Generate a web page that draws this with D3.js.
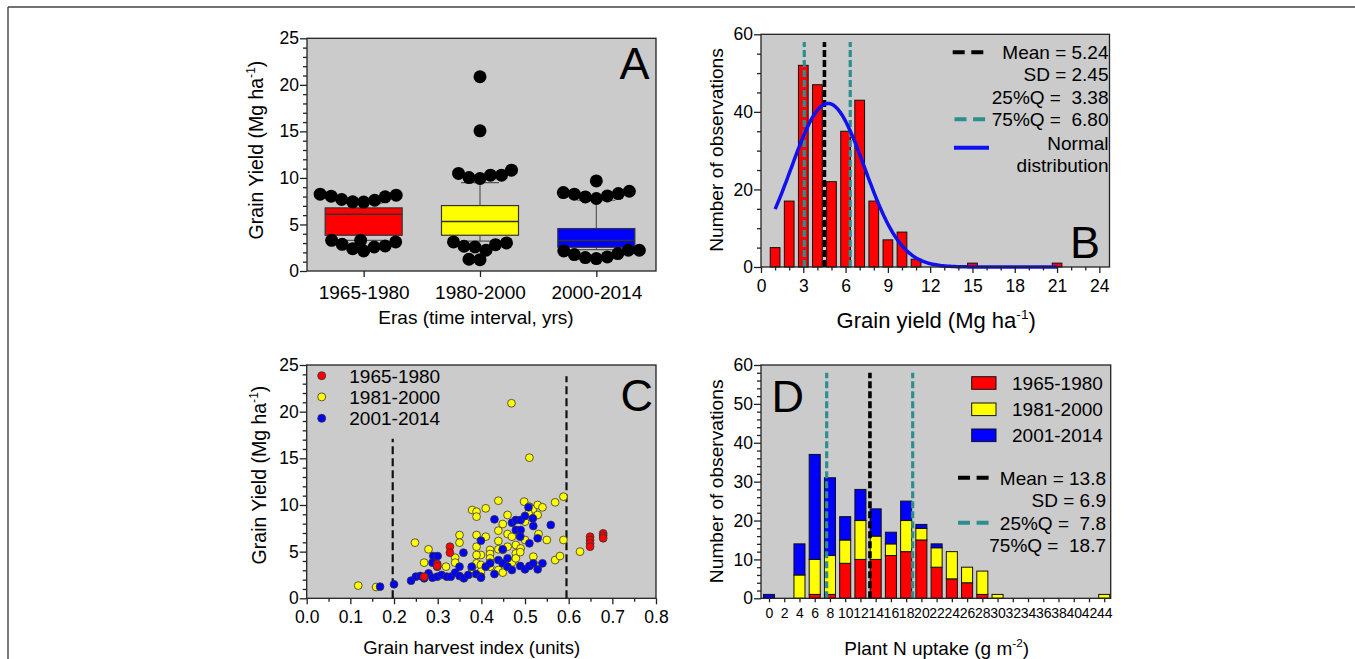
<!DOCTYPE html>
<html><head><meta charset="utf-8">
<script src="https://cdn.jsdelivr.net/npm/d3@7"></script>
<style>
html,body{margin:0;padding:0;background:#fff;}
svg{display:block;font-family:"Liberation Sans",Arial,Helvetica,sans-serif;}
</style>
</head><body>
<svg id="c" width="1355" height="659"></svg>
<script>
// ---------------- DATA ----------------
// Panel A : box plots by era
const eras = ["1965-1980", "1980-2000", "2000-2014"];
const boxQ1 = [3.84, 3.84, 2.55];
const boxMedian = [6.1, 5.31, 3.27];
const boxQ3 = [6.78, 7.03, 4.56];
const whiskerLow = [3.3, 3.2, 2.3];
const whiskerHigh = [7.3, 9.5, 7.6];
const outliers1965 = [8.25, 8.04, 7.68, 7.43, 7.4, 7.6, 7.97, 8.15, 3.3, 2.87, 2.58, 2.15, 2.4, 2.69, 3.12, 3.3];
const outliers1980 = [10.48, 10.3, 9.94, 10.04, 10.3, 10.83, 20.87, 15.06, 3.12, 2.23, 2.83, 1.22, 1.26, 2.66, 2.58, 3.02];
const outliers2000 = [9.68, 8.43, 8.25, 7.96, 7.79, 8.07, 8.32, 8.57, 2.23, 1.87, 1.51, 1.33, 1.44, 1.76, 2.15, 2.23];
const yTicksA = [0, 5, 10, 15, 20, 25];

// Panel B : histogram of grain yield
const yieldBins = [1, 2, 3, 4, 5, 6, 7, 8, 9, 10, 11, 12, 13, 14, 15, 16, 17, 18, 19, 20, 21];
const yieldCounts = [5, 17, 52, 47, 22, 35, 43, 17, 7, 9, 2, 0, 0, 0, 1, 0, 0, 0, 0, 0, 1];
const xTicksB = [0, 3, 6, 9, 12, 15, 18, 21, 24];
const yTicksB = [0, 20, 40, 60];
const vLinesB = [{x: 3.07, kind: "q"}, {x: 4.5, kind: "mean"}, {x: 6.33, kind: "q"}];
const normalFit = {peak: 42.2, mean: 4.75, sd: 2.6, from: 1, to: 21};
const legendB = ["Mean = 5.24", "SD = 2.45", "25%Q =  3.38", "75%Q =  6.80", "Normal", "distribution"];

// Panel C : scatter (harvest index, grain yield)
const series1965 = [[0.269,2.32],[0.299,3.68],[0.299,3.45],[0.328,5.53],[0.328,4.89],[0.649,6.60],[0.649,6.25],[0.649,5.89],[0.649,5.53],[0.679,6.96],[0.679,6.70],[0.679,6.43]];
const series1981 = [[0.118,1.36],[0.159,1.21],[0.248,5.96],[0.279,5.25],[0.269,3.82],[0.290,3.82],[0.319,3.39],[0.340,4.35],[0.340,3.82],[0.350,6.78],[0.350,5.96],[0.379,9.46],[0.389,9.28],[0.389,8.75],[0.410,9.64],[0.439,10.46],[0.460,8.93],[0.449,7.96],[0.498,10.36],[0.510,9.82],[0.518,9.53],[0.529,10.0],[0.540,9.75],[0.529,8.93],[0.569,10.28],[0.588,10.89],[0.389,6.78],[0.410,6.60],[0.439,7.25],[0.460,6.89],[0.470,6.60],[0.489,6.68],[0.500,6.25],[0.531,6.89],[0.550,6.25],[0.588,6.25],[0.439,6.14],[0.460,5.53],[0.479,5.71],[0.490,5.35],[0.479,4.82],[0.439,5.25],[0.420,5.18],[0.389,5.53],[0.420,4.75],[0.420,4.28],[0.399,4.64],[0.389,4.64],[0.389,3.75],[0.420,3.82],[0.378,3.21],[0.399,3.57],[0.420,3.39],[0.378,2.68],[0.399,2.85],[0.439,3.03],[0.449,2.75],[0.470,3.82],[0.479,4.28],[0.519,4.46],[0.529,3.46],[0.569,4.10],[0.580,4.53],[0.626,5.0],[0.510,15.07],[0.469,20.9],[0.500,8.21],[0.508,9.11],[0.449,5.18],[0.489,4.95]];
const series2001 = [[0.168,1.25],[0.200,1.50],[0.239,1.89],[0.250,2.32],[0.260,2.39],[0.269,2.14],[0.279,2.68],[0.288,2.21],[0.299,2.32],[0.290,4.53],[0.300,4.53],[0.288,3.82],[0.299,3.39],[0.309,2.50],[0.321,2.32],[0.330,2.32],[0.340,2.75],[0.350,3.39],[0.350,2.39],[0.359,4.89],[0.360,2.14],[0.370,2.50],[0.378,3.39],[0.388,2.60],[0.399,2.32],[0.399,6.18],[0.410,3.39],[0.420,3.75],[0.430,8.46],[0.430,2.60],[0.439,4.10],[0.449,3.75],[0.460,4.28],[0.460,3.39],[0.470,8.10],[0.470,3.03],[0.479,8.39],[0.490,8.39],[0.479,7.32],[0.490,7.32],[0.500,8.82],[0.508,9.75],[0.518,8.57],[0.519,7.75],[0.510,5.89],[0.489,3.46],[0.500,3.10],[0.510,3.46],[0.519,3.75],[0.529,6.43],[0.529,3.10],[0.540,3.75],[0.559,7.86],[0.489,6.60],[0.449,5.25],[0.399,2.21]];
const scatterSeries = [
  {name: "1965-1980", color: "#ff0000", data: series1965},
  {name: "1981-2000", color: "#ffff00", data: series1981},
  {name: "2001-2014", color: "#0000ff", data: series2001}
];
const xTicksC = [0, 0.1, 0.2, 0.3, 0.4, 0.5, 0.6, 0.7, 0.8];
const yTicksC = [0, 5, 10, 15, 20, 25];
const vLinesC = [{x: 0.197, top: 17.1}, {x: 0.595, top: 23.8}];

// Panel D : stacked histogram of plant N uptake
const nBins = [0, 2, 4, 6, 8, 10, 12, 14, 16, 18, 20, 22, 24, 26, 28, 30, 32, 34, 36, 38, 40, 42, 44];
const nRed    = [0, 0, 0, 1, 1, 9, 10, 10, 11, 12, 15, 8, 5, 4, 1, 0, 0, 0, 0, 0, 0, 0, 0];
const nYellow = [0, 0, 6, 9, 10, 6, 10, 6, 3, 8, 3, 5, 7, 4, 6, 1, 0, 0, 0, 0, 0, 0, 1];
const nBlue   = [1, 0, 8, 27, 20, 6, 8, 7, 3, 5, 1, 1, 0, 0, 0, 0, 0, 0, 0, 0, 0, 0, 0];
const yTicksD = [0, 10, 20, 30, 40, 50, 60];
const vLinesD = [{x: 7.57, kind: "q"}, {x: 13.25, kind: "mean"}, {x: 18.86, kind: "q"}];
const legendDSeries = ["1965-1980", "1981-2000", "2001-2014"];
const legendDStats = ["Mean = 13.8", "SD = 6.9", "25%Q =  7.8", "75%Q =  18.7"];

// ---------------- STYLE / LAYOUT ----------------
const FILL = "#cbcbcb", INK = "#000", AX = "#222";
const TEAL = "#2b8f8f";
const RED = "#ff0000", YEL = "#ffff00", BLU = "#0000ff";
const svg = d3.select("#c");

// outer frame
svg.append("line").attr("x1", 8).attr("y1", 7).attr("x2", 1355).attr("y2", 7).attr("stroke", "#444").attr("stroke-width", 1.4);
svg.append("line").attr("x1", 8).attr("y1", 7).attr("x2", 8).attr("y2", 659).attr("stroke", "#444").attr("stroke-width", 1.4);

const PA = {x0: 307, x1: 656, y0: 38.3, y1: 271};
const PB = {x0: 761, x1: 1109.5, y0: 34.3, y1: 267};
const PC = {x0: 306.7, x1: 656, y0: 365, y1: 598.3};
const PD = {x0: 761, x1: 1110.7, y0: 365, y1: 598.3};

function bg(r) {
  svg.append("rect").attr("x", r.x0).attr("y", r.y0).attr("width", r.x1 - r.x0).attr("height", r.y1 - r.y0).attr("fill", FILL);
}
function border(r) {
  svg.append("rect").attr("x", r.x0).attr("y", r.y0).attr("width", r.x1 - r.x0).attr("height", r.y1 - r.y0)
    .attr("fill", "none").attr("stroke", AX).attr("stroke-width", 1.3);
}
function styleAxis(a, fs) {
  a.attr("font-family", null).attr("font-size", fs);
  a.select(".domain").remove();
  a.selectAll("line").attr("stroke", AX).attr("stroke-width", 1.3);
  a.selectAll("text").attr("fill", INK);
}
function yAxis(scale, x, ticks, minorStep, fs, fmt) {
  const a = svg.append("g").attr("transform", `translate(${x},0)`)
    .call(d3.axisLeft(scale).tickValues(ticks).tickSize(7).tickPadding(1).tickFormat(fmt || d3.format("d")));
  styleAxis(a, fs);
  if (minorStep) {
    const [lo, hi] = scale.domain();
    const minor = d3.range(lo, hi + 1e-9, minorStep).filter(v => !ticks.some(t => Math.abs(t - v) < 1e-9));
    const m = svg.append("g").attr("transform", `translate(${x},0)`)
      .call(d3.axisLeft(scale).tickValues(minor).tickSize(4).tickFormat(""));
    styleAxis(m, fs);
  }
}
function xAxis(scale, y, ticks, minorStep, fs, pad, size, fmt) {
  const a = svg.append("g").attr("transform", `translate(0,${y})`)
    .call(d3.axisBottom(scale).tickValues(ticks).tickSize(size).tickPadding(pad).tickFormat(fmt || (d => d)));
  styleAxis(a, fs);
  if (minorStep) {
    const [lo, hi] = scale.domain();
    const minor = d3.range(lo, hi + 1e-9, minorStep).filter(v => !ticks.some(t => Math.abs(t - v) < 1e-9));
    const m = svg.append("g").attr("transform", `translate(0,${y})`)
      .call(d3.axisBottom(scale).tickValues(minor).tickSize(3.5).tickFormat(""));
    styleAxis(m, fs);
  }
}
function supText(x, y, parts, fs, rotate, anchor) {
  const t = svg.append("text").attr("font-size", fs).attr("fill", INK)
    .attr("text-anchor", anchor || "middle")
    .attr("transform", rotate ? `translate(${x},${y}) rotate(-90)` : `translate(${x},${y})`);
  let wasSup = false;
  parts.forEach(([s, sup]) => {
    const sp = t.append("tspan").text(s);
    if (sup) sp.attr("font-size", fs * 0.62).attr("dy", -fs * 0.42);
    else if (wasSup) sp.attr("dy", fs * 0.42);
    wasSup = !!sup;
  });
  return t;
}
function plain(x, y, s, fs, anchor) {
  return svg.append("text").attr("x", x).attr("y", y).attr("font-size", fs).attr("fill", INK)
    .attr("text-anchor", anchor || "start").attr("xml:space", "preserve").style("white-space", "pre").text(s);
}

// ---------------- PANEL A ----------------
bg(PA);
const xA = d3.scalePoint().domain(eras).range([305.5, 654.5]).padding(0.5);
const yA = d3.scaleLinear().domain([0, 25]).range([PA.y1, PA.y0]);
const boxW = 77, capW = 38, dotR = 6.5, swarmD = 11;
const boxColors = [RED, YEL, BLU];
const outlierSets = [outliers1965, outliers1980, outliers2000];

function swarm(vals, yScale, d) {
  const order = vals.slice().sort((a, b) => a - b);
  const placed = [];
  order.forEach((v, k) => {
    const y = yScale(v);
    let best = null;
    const signs = (k % 2 === 0) ? [1, -1] : [-1, 1];
    for (let s = 0; s < 300 && best === null; s += 0.5) {
      for (const sg of signs) {
        const x = s * sg;
        if (placed.every(p => (p.x - x) ** 2 + (p.y - y) ** 2 >= d * d)) { best = x; break; }
      }
    }
    placed.push({x: best, y, v});
  });
  return placed;
}

eras.forEach((e, i) => {
  const cx = xA(e);
  const g = svg.append("g");
  g.append("line").attr("x1", cx).attr("x2", cx).attr("y1", yA(boxQ3[i])).attr("y2", yA(whiskerHigh[i])).attr("stroke", "#555").attr("stroke-width", 1.2);
  g.append("line").attr("x1", cx).attr("x2", cx).attr("y1", yA(boxQ1[i])).attr("y2", yA(whiskerLow[i])).attr("stroke", "#555").attr("stroke-width", 1.2);
  g.append("line").attr("x1", cx - capW / 2).attr("x2", cx + capW / 2).attr("y1", yA(whiskerHigh[i])).attr("y2", yA(whiskerHigh[i])).attr("stroke", "#555").attr("stroke-width", 1.2);
  g.append("line").attr("x1", cx - capW / 2).attr("x2", cx + capW / 2).attr("y1", yA(whiskerLow[i])).attr("y2", yA(whiskerLow[i])).attr("stroke", "#555").attr("stroke-width", 1.2);
  g.append("rect").attr("x", cx - boxW / 2).attr("width", boxW).attr("y", yA(boxQ3[i])).attr("height", yA(boxQ1[i]) - yA(boxQ3[i]))
    .attr("fill", boxColors[i]).attr("stroke", "#333").attr("stroke-width", 1.2);
  g.append("line").attr("x1", cx - boxW / 2).attr("x2", cx + boxW / 2).attr("y1", yA(boxMedian[i])).attr("y2", yA(boxMedian[i])).attr("stroke", "#333").attr("stroke-width", 1.4);
  swarm(outlierSets[i], yA, swarmD).forEach(p => {
    g.append("circle").attr("cx", cx + p.x).attr("cy", p.y).attr("r", dotR).attr("fill", "#000");
  });
});
border(PA);
yAxis(yA, PA.x0, yTicksA, 1, 17.5);
{
  const a = svg.append("g").attr("transform", `translate(0,${PA.y1})`)
    .call(d3.axisBottom(xA).tickSize(6).tickPadding(8.3));
  styleAxis(a, 19);
}
supText(263, 150, [["Grain Yield (Mg ha", 0], ["-1", 1], [")", 0]], 19.5, true);
plain(476, 324.3, "Eras (time interval, yrs)", 19, "middle");
plain(649.5, 79.3, "A", 45, "end");

// ---------------- PANEL B ----------------
bg(PB);
const xB = d3.scaleLinear().domain([0, 24.72]).range([PB.x0, PB.x1]);
const yB = d3.scaleLinear().domain([0, 60]).range([PB.y1, PB.y0]);
const barWB = 0.69;
svg.append("g").selectAll("rect").data(yieldBins.map((b, i) => ({b, c: yieldCounts[i]})).filter(d => d.c > 0))
  .join("rect")
  .attr("x", d => xB(d.b - barWB / 2)).attr("width", xB(barWB) - xB(0))
  .attr("y", d => yB(d.c)).attr("height", d => yB(0) - yB(d.c))
  .attr("fill", RED).attr("stroke", "#111").attr("stroke-width", 1);
vLinesB.forEach(v => {
  svg.append("line").attr("x1", xB(v.x)).attr("x2", xB(v.x)).attr("y1", yB(0)).attr("y2", yB(58))
    .attr("stroke", v.kind === "mean" ? "#000" : TEAL).attr("stroke-width", v.kind === "mean" ? 3.6 : 3.2)
    .attr("stroke-dasharray", "7,3");
});
// fitted normal curve, drawn from its parameters
const curvePts = d3.range(normalFit.from, normalFit.to + 1e-9, 0.1)
  .map(x => [x, normalFit.peak * Math.exp(-((x - normalFit.mean) ** 2) / (2 * normalFit.sd ** 2))]);
svg.append("path").datum(curvePts)
  .attr("d", d3.line().x(d => xB(d[0])).y(d => yB(d[1])).curve(d3.curveBasis))
  .attr("fill", "none").attr("stroke", "#1010f0").attr("stroke-width", 3.5);
const legBY = [52.3, 74.5, 96.8, 119.3, 143.3, 165.3];
legendB.forEach((s, i) => plain(1108.5, legBY[i] + 6.8, s, 19, "end"));
svg.append("line").attr("x1", 952.7).attr("x2", 983.3).attr("y1", legBY[0]).attr("y2", legBY[0]).attr("stroke", "#000").attr("stroke-width", 4).attr("stroke-dasharray", "12,6.6");
svg.append("line").attr("x1", 954.5).attr("x2", 985.5).attr("y1", legBY[3]).attr("y2", legBY[3]).attr("stroke", TEAL).attr("stroke-width", 4).attr("stroke-dasharray", "12,6.6");
svg.append("line").attr("x1", 954).attr("x2", 989).attr("y1", 147.7).attr("y2", 147.7).attr("stroke", "#1010f0").attr("stroke-width", 4);
border(PB);
yAxis(yB, PB.x0, yTicksB, 5, 17.5);
xAxis(xB, PB.y1, xTicksB, 1, 17.5, 6.3, 6);
supText(723, 150, [["Number of observations", 0]], 19.2, true);
supText(936.2, 328.3, [["Grain yield (Mg ha", 0], ["-1", 1], [")", 0]], 22, false);
plain(1100, 258.3, "B", 45, "end");

// ---------------- PANEL C ----------------
bg(PC);
const xC = d3.scaleLinear().domain([0, 0.8]).range([PC.x0, PC.x1]);
const yC = d3.scaleLinear().domain([0, 25]).range([PC.y1, PC.y0]);
vLinesC.forEach(v => {
  svg.append("line").attr("x1", xC(v.x)).attr("x2", xC(v.x)).attr("y1", yC(0)).attr("y2", yC(v.top))
    .attr("stroke", "#111").attr("stroke-width", 2.2).attr("stroke-dasharray", "8,4");
});
const drawOrder = [scatterSeries[1], scatterSeries[2], scatterSeries[0]];
drawOrder.forEach(s => {
  svg.append("g").selectAll("circle").data(s.data).join("circle")
    .attr("cx", d => xC(d[0])).attr("cy", d => yC(d[1])).attr("r", 3.9)
    .attr("fill", s.color).attr("stroke", "#333").attr("stroke-width", 0.8);
});
const legCY = [375.7, 396.9, 418.3];
scatterSeries.forEach((s, i) => {
  svg.append("circle").attr("cx", 321.7).attr("cy", legCY[i]).attr("r", 4).attr("fill", s.color).attr("stroke", "#333").attr("stroke-width", 0.8);
  plain(349.3, legCY[i] + 6.8, s.name, 19, "start");
});
border(PC);
yAxis(yC, PC.x0, yTicksC, 1, 17.5);
xAxis(xC, PC.y1, xTicksC, 0.05, 17.5, 6.7, 6, d3.format(".1f"));
supText(266, 475, [["Grain Yield (Mg ha", 0], ["-1", 1], [")", 0]], 19.5, true);
plain(471.7, 654, "Grain harvest index (units)", 18.5, "middle");
plain(653, 411, "C", 45, "end");

// ---------------- PANEL D ----------------
bg(PD);
const xD = d3.scaleLinear().domain([-1.05, 44.85]).range([PD.x0, PD.x1]);
const yD = d3.scaleLinear().domain([0, 60]).range([PD.y1, PD.y0]);
const barWD = 1.45;
const stackRows = nBins.map((b, i) => ({bin: b, red: nRed[i], yellow: nYellow[i], blue: nBlue[i]}));
const stacked = d3.stack().keys(["red", "yellow", "blue"])(stackRows);
const stackColors = {red: RED, yellow: YEL, blue: BLU};
stacked.forEach(layer => {
  svg.append("g").selectAll("rect").data(layer.filter(d => d[1] - d[0] > 0)).join("rect")
    .attr("x", d => xD(d.data.bin - barWD / 2)).attr("width", xD(barWD) - xD(0))
    .attr("y", d => yD(d[1])).attr("height", d => yD(d[0]) - yD(d[1]))
    .attr("fill", stackColors[layer.key]).attr("stroke", "#111").attr("stroke-width", 1);
});
vLinesD.forEach(v => {
  svg.append("line").attr("x1", xD(v.x)).attr("x2", xD(v.x)).attr("y1", yD(0)).attr("y2", yD(58))
    .attr("stroke", v.kind === "mean" ? "#000" : TEAL).attr("stroke-width", v.kind === "mean" ? 3.6 : 3.2)
    .attr("stroke-dasharray", "7,3");
});
const legDY = [383, 409.3, 435.3];
[RED, YEL, BLU].forEach((c, i) => {
  svg.append("rect").attr("x", 971.7).attr("y", legDY[i] - 6.3).attr("width", 24.3).attr("height", 12.6)
    .attr("fill", c).attr("stroke", "#111").attr("stroke-width", 1);
  plain(1012, legDY[i] + 6.8, legendDSeries[i], 19, "start");
});
const legDS = [477.7, 500.5, 522.7, 545];
legendDStats.forEach((s, i) => plain(1106, legDS[i] + 6.8, s, 19, "end"));
svg.append("line").attr("x1", 958).attr("x2", 991.7).attr("y1", legDS[0]).attr("y2", legDS[0]).attr("stroke", "#000").attr("stroke-width", 4).attr("stroke-dasharray", "12,6.6");
svg.append("line").attr("x1", 958).attr("x2", 991.7).attr("y1", legDS[2]).attr("y2", legDS[2]).attr("stroke", TEAL).attr("stroke-width", 4).attr("stroke-dasharray", "12,6.6");
border(PD);
yAxis(yD, PD.x0, yTicksD, 2, 17.5);
xAxis(xD, PD.y1, nBins, 0, 14, 6, 4);
supText(723, 481.3, [["Number of observations", 0]], 19.2, true);
supText(936.7, 655, [["Plant N uptake (g m", 0], ["-2", 1], [")", 0]], 19, false);
plain(771.5, 411.7, "D", 45, "start");
</script>
</body></html>
